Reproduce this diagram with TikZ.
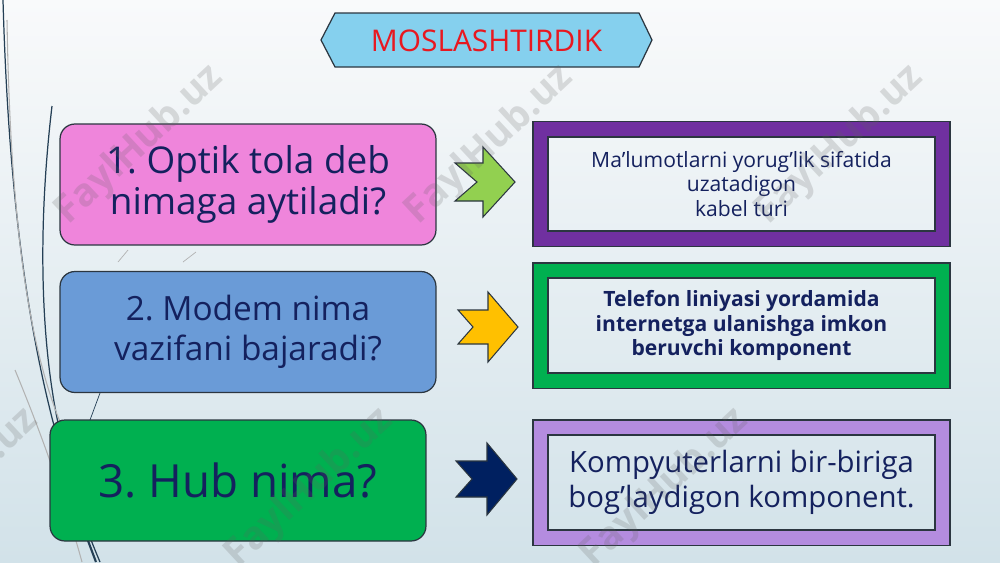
\documentclass[tikz,border=0pt]{standalone}
\usepackage{fontspec}
\setmainfont{Open Sans}
\usetikzlibrary{positioning}
\frenchspacing

\definecolor{bgtop}{HTML}{F9FAFB}
\definecolor{bgbot}{HTML}{D2E2E9}
\definecolor{edge}{HTML}{2B3640}
\definecolor{ink}{HTML}{14215E}
\definecolor{qpink}{HTML}{EF85DB}
\definecolor{qblue}{HTML}{6A9BD7}
\definecolor{qgreen}{HTML}{00B050}
\definecolor{fviolet}{HTML}{7030A0}
\definecolor{flilac}{HTML}{B48CDF}
\definecolor{titlefill}{HTML}{85D0EE}
\definecolor{titlered}{HTML}{E81820}
\definecolor{arrgreen}{HTML}{92D050}
\definecolor{arryellow}{HTML}{FFC000}
\definecolor{arrnavy}{HTML}{002060}
\definecolor{wispdark}{HTML}{243F55}
\definecolor{wmarkcol}{HTML}{606060}

\tikzset{
	question/.style={draw=edge, line width=0.7pt, rounded corners=8.5pt, minimum width=7.52cm,
		minimum height=2.42cm, align=center, text=ink},
	answer/.style={draw=edge, line width=0.7pt, minimum width=7.72cm, minimum height=1.88cm,
		align=center, text=ink},
	frame/.style={draw=edge, line width=0.7pt, even odd rule},
	blockarrow/.style={draw=edge, line width=0.6pt, line join=miter},
	wisp/.style={draw=wispdark, line width=0.7pt},
	wispgray/.style={draw=gray!60, line width=0.6pt},
	wmark/.style={text=wmarkcol, opacity=0.2, font=\bfseries\fontsize{22}{22}\selectfont, rotate=43}
}

\begin{document}
\begin{tikzpicture}[x=0.02cm, y=-0.02cm]
	\shade[top color=bgtop, bottom color=bgbot] (0,0) rectangle (1000,562);
	\useasboundingbox (0,0) rectangle (1000,562);

	\draw[wisp] (3,0) .. controls (10,250) and (40,420) .. (100,562);
	\draw[wisp] (52,106) .. controls (35,250) and (42,380) .. (70,470);
	\draw[wisp, line width=1.2pt] (84,530) -- (96,562);
	\draw[wispgray] (7,20) .. controls (10,200) and (25,350) .. (68,440);
	\draw[wispgray] (15,370) .. controls (40,430) and (65,500) .. (82,562);
	\draw[wisp, line width=0.4pt] (100,393) -- (90,420);
	\draw[wispgray, line width=0.4pt] (118,262) -- (128,250);
	\draw[wispgray, line width=0.4pt] (183,262) -- (196,252);

	\path[draw=edge, line width=0.7pt, fill=titlefill]
		(321,40) -- (335,13) -- (639,13) -- (652,40) -- (639,67) -- (335,67) -- cycle;
	\node[text=titlered, font=\fontsize{17}{17}\selectfont] (title) at (486.5,41) {MOSLASHTIRDIK};

	\node[question, fill=qpink, font=\fontsize{21}{23}\selectfont] (q1) at (248,184.5)
		{1. Optik tola deb\\nimaga aytiladi?};
	\node[question, fill=qblue, font=\fontsize{19}{22.5}\selectfont] (q2) at (248,332)
		{2. Modem nima\\vazifani bajaradi?};
	\node[question, fill=qgreen, font=\fontsize{26}{26}\selectfont] (q3) at (238,480.5)
		{3. Hub nima?};

	\node[answer, font=\fontsize{12}{14.2}\selectfont] (a1) at (741.5,184)
		{Ma’lumotlarni yorug’lik sifatida\\uzatadigon\\kabel turi};
	\node[answer, font=\bfseries\fontsize{12}{14.2}\selectfont] (a2) at (741.5,325.5)
		{Telefon liniyasi yordamida\\internetga ulanishga imkon\\beruvchi komponent};
	\node[answer, font=\fontsize{16.7}{20}\selectfont] (a3) at (741.5,482.5)
		{Kompyuterlarni bir-biriga\\bog’laydigon komponent.};

	\path[frame, fill=fviolet] ([shift={(-15,-15)}]a1.north west) rectangle ([shift={(15,15)}]a1.south east)
		(a1.north west) rectangle (a1.south east);
	\path[frame, fill=qgreen] ([shift={(-15,-15)}]a2.north west) rectangle ([shift={(15,15)}]a2.south east)
		(a2.north west) rectangle (a2.south east);
	\path[frame, fill=flilac] ([shift={(-15,-15)}]a3.north west) rectangle ([shift={(15,15)}]a3.south east)
		(a3.north west) rectangle (a3.south east);

	\draw[blockarrow, fill=arrgreen, shift={(455,182)}]
		(0,-19) -- (28,-19) -- (28,-35) -- (60,0) -- (28,35) -- (28,19) -- (0,19) -- (22,0) -- cycle;
	\draw[blockarrow, fill=arryellow, shift={(458,327)}]
		(0,-17) -- (30,-17) -- (30,-35) -- (60,0) -- (30,35) -- (30,17) -- (0,17) -- (15,0) -- cycle;
	\draw[blockarrow, fill=arrnavy, shift={(456,479)}]
		(0,-18) -- (31,-18) -- (31,-36) -- (61,0) -- (31,36) -- (31,18) -- (0,18) -- (16,0) -- cycle;

	\foreach \wx/\wy [count=\i] in {140/145, 490/145, 840/145, -45/488, 310/488, 665/488}
		\node[wmark] (w\i) at (\wx,\wy) {FaylHub.uz};
\end{tikzpicture}
\end{document}
